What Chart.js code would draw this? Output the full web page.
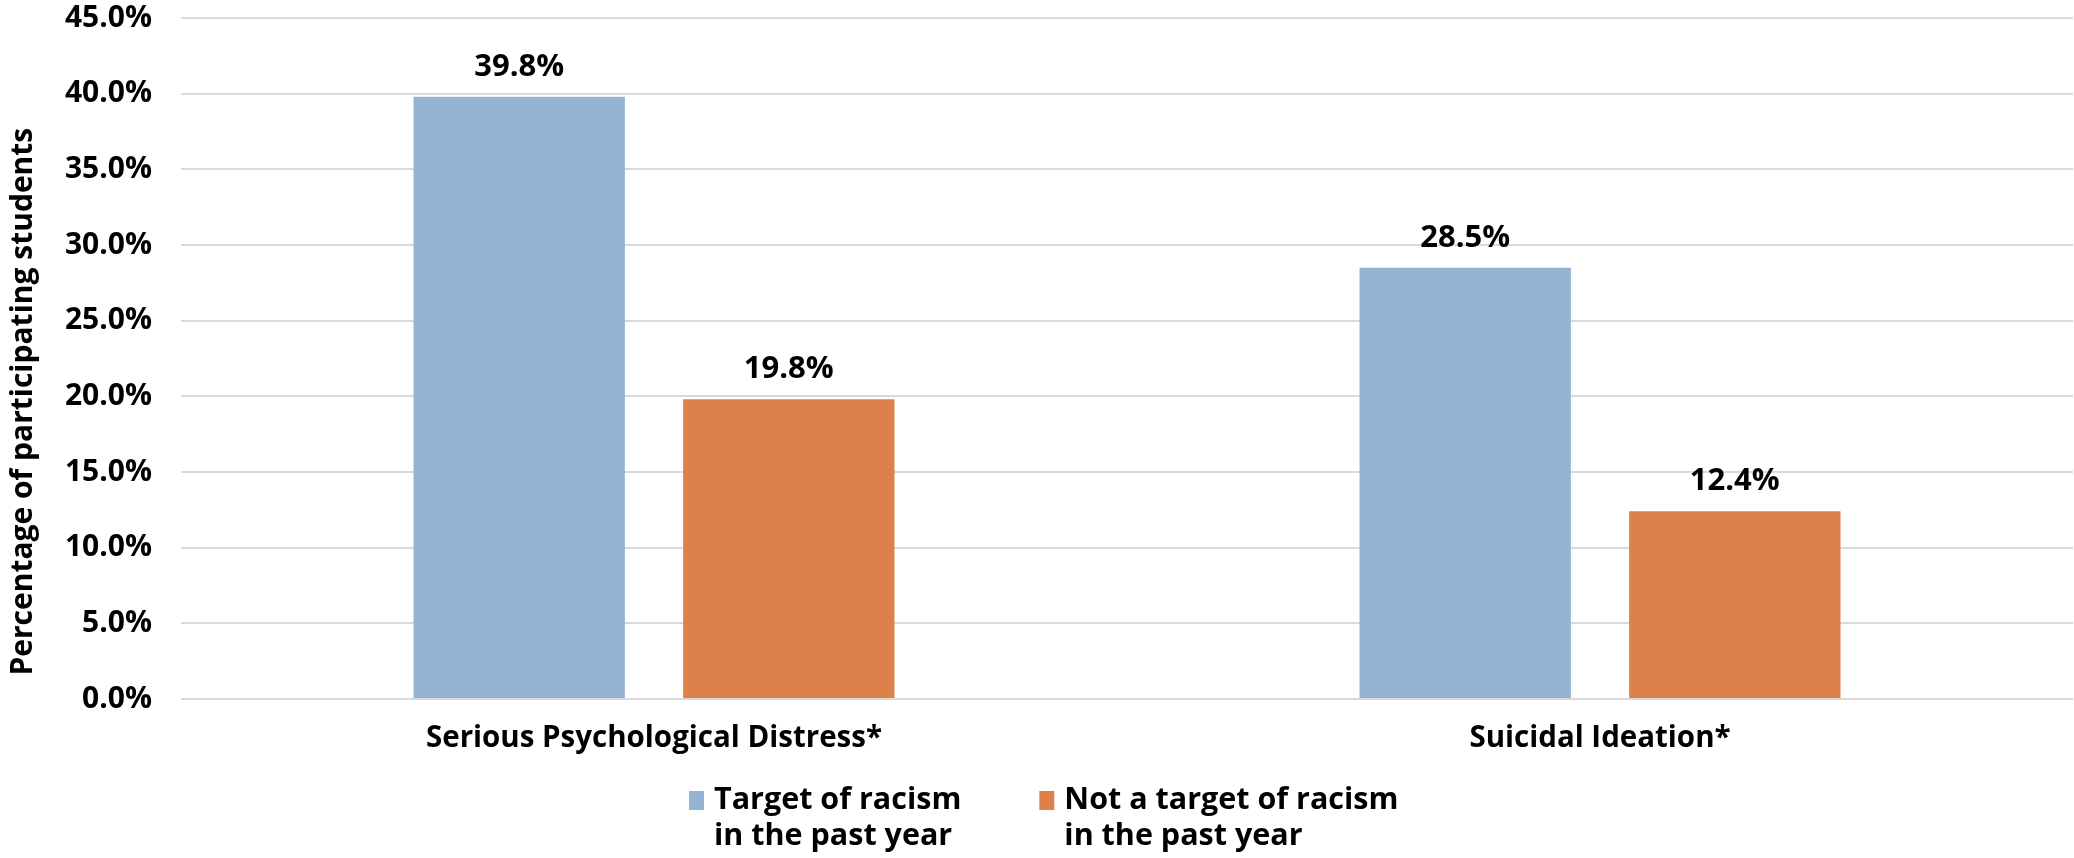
<!DOCTYPE html>
<html>
<head>
<meta charset="utf-8">
<script src="https://cdn.jsdelivr.net/npm/chart.js@4.4.1/dist/chart.umd.min.js"></script>
<style>
  html, body { margin: 0; padding: 0; background: #fff; }
  #box { width: 2074px; height: 858px; }
</style>
</head>
<body>
<div id="box"><canvas id="myChart"></canvas></div>
<script>
// dados do gráfico
const categories = ['Serious Psychological Distress*', 'Suicidal Ideation*'];
const targetValues = [39.8, 28.5];
const notTargetValues = [19.8, 12.4];
const seriesNames = [
    ['Target of racism', 'in the past year'],
    ['Not a target of racism', 'in the past year']
];
const yTicks = [0, 5, 10, 15, 20, 25, 30, 35, 40, 45];

const FONT = "'Open Sans', 'DejaVu Sans', sans-serif";
const BLUE = '#95B3D3';
const ORANGE = '#DD804A';

// rótulos em cima das barras
const valueLabels = {
    id: 'valueLabels',
    afterDatasetsDraw(chart) {
        const ctx = chart.ctx;
        ctx.save();
        ctx.font = 'bold 31px ' + FONT;
        ctx.fillStyle = '#000';
        ctx.textAlign = 'center';
        ctx.textBaseline = 'middle';
        chart.data.datasets.forEach((ds, i) => {
            chart.getDatasetMeta(i).data.forEach((bar, j) => {
                ctx.fillText(ds.data[j].toFixed(1) + '%', bar.x, bar.y - 30);
            });
        });
        ctx.restore();
    }
};

// legenda desenhada à mão (duas linhas por item)
const legendX = 689, legendY = 800, legendGap = 78;
const bottomLegend = {
    id: 'bottomLegend',
    afterDraw(chart) {
        const ctx = chart.ctx;
        ctx.save();
        ctx.font = 'bold 30.5px ' + FONT;
        ctx.textBaseline = 'middle';
        ctx.textAlign = 'left';
        let x = legendX;
        chart.data.datasets.forEach((ds) => {
            ctx.fillStyle = ds.backgroundColor;
            ctx.fillRect(x, legendY - 9, 15, 19);
            ctx.fillStyle = '#000';
            let w = 0;
            ds.label.forEach((line, k) => {
                ctx.fillText(line, x + 25, legendY + k * 36);
                w = Math.max(w, ctx.measureText(line).width);
            });
            x += 25 + w + legendGap;
        });
        ctx.restore();
    }
};

const grafico = document.getElementById('myChart');
new Chart(grafico, {
    type: 'bar',
    data: {
        labels: categories,
        datasets: [{
            label: seriesNames[0],
            data: targetValues,
            backgroundColor: BLUE
        }, {
            label: seriesNames[1],
            data: notTargetValues,
            backgroundColor: ORANGE
        }]
    },
    options: {
        responsive: true,
        maintainAspectRatio: false,
        animation: false,
        categoryPercentage: 0.570,
        barPercentage: 0.784,
        layout: { padding: { top: 18, right: 1, bottom: 99, left: 0 } },
        plugins: {
            tooltip: { enabled: false },
            legend: { display: false }
        },
        scales: {
            x: {
                grid: { display: false, drawTicks: false },
                border: { display: false },
                afterFit(scale) { scale.height = 60; },
                ticks: {
                    padding: 22,
                    color: '#000',
                    maxRotation: 0,
                    autoSkip: false,
                    font: { family: FONT, size: 29.5, weight: 'bold' }
                }
            },
            y: {
                min: 0,
                max: 45,
                afterBuildTicks(scale) {
                    scale.ticks = yTicks.map(v => ({ value: v }));
                },
                afterFit(scale) {
                    scale.width = 181;
                    scale.paddingTop = 0;
                    scale.paddingBottom = 0;
                },
                grid: { color: '#D9D9D9', lineWidth: 2, drawTicks: false },
                border: { display: false },
                ticks: {
                    padding: 29,
                    color: '#000',
                    font: { family: FONT, size: 30, weight: 'bold' },
                    callback: (v) => v.toFixed(1) + '%'
                },
                title: {
                    display: true,
                    align: 'start',
                    text: '   Percentage of participating students',
                    color: '#000',
                    font: { family: FONT, size: 30, weight: 'bold' },
                    padding: { top: 5, bottom: 0 }
                }
            }
        }
    },
    plugins: [valueLabels, bottomLegend]
});
</script>
</body>
</html>
